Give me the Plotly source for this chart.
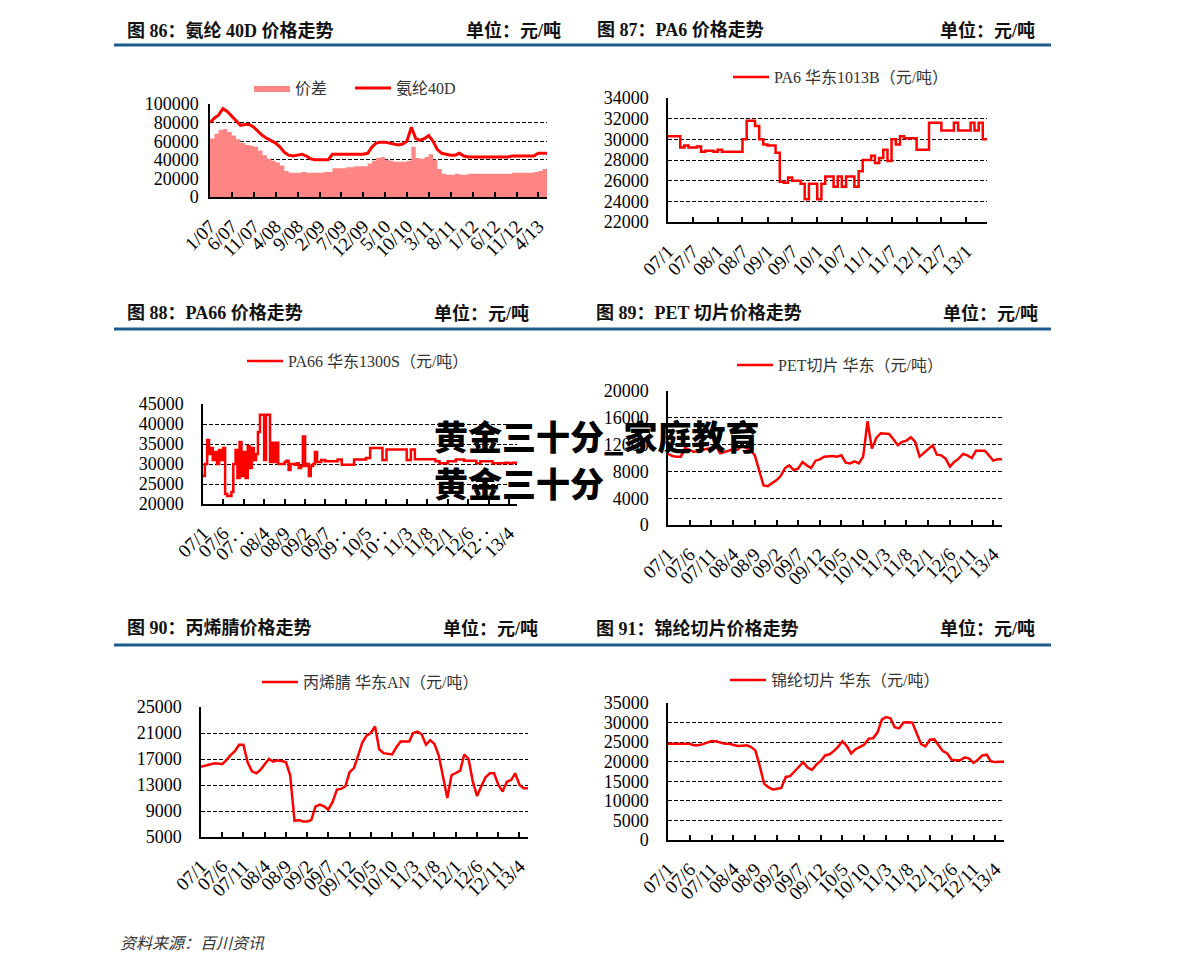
import plotly.graph_objects as go
import pandas as pd

W, H = 1191, 974          # browser window
PAGE_MARGIN = 8           # default body margin of the written page
FW, FH = W - 2 * PAGE_MARGIN, H - 2 * PAGE_MARGIN

# ---------------- data ----------------
MONTHS = pd.date_range("2007-01-01", periods=78, freq="MS").strftime("%Y-%m-%d").tolist()

SPANDEX_40D = [80000, 85000, 88000, 95000, 92000, 87000, 82000, 77000, 78000, 78000,
               75000, 71000, 66000, 63000, 61000, 58000, 54000, 48000, 45000, 44000,
               45000, 46000, 44000, 41000, 40000, 40000, 40000, 40000, 46000, 46000,
               46000, 46000, 46000, 46000, 46000, 46000, 47000, 54000, 58000, 59000,
               59000, 58000, 57000, 56000, 57000, 60000, 75000, 63000, 61000, 63000,
               66000, 60000, 51000, 47000, 46000, 45000, 45000, 47000, 44000, 43000,
               43000, 43000, 43000, 43000, 43000, 43000, 43000, 43000, 43000, 44000,
               44000, 44000, 44000, 44000, 44000, 47000, 47000, 47000]

SPREAD = [63000, 68000, 72000, 73000, 70000, 66000, 62000, 58000, 56000, 55000,
          54000, 50000, 45000, 41000, 39000, 37000, 34000, 28000, 26000, 26000,
          26000, 27000, 26000, 26000, 26000, 26000, 27000, 27000, 31000, 31000,
          31000, 32000, 32000, 33000, 33000, 33000, 36000, 39000, 42000, 43000,
          40000, 39000, 38000, 38000, 38000, 39000, 54000, 42000, 41000, 43000,
          46000, 40000, 30000, 25000, 24000, 24000, 25000, 24000, 24000, 25000,
          25000, 25000, 25000, 25000, 25000, 25000, 25000, 25000, 25000, 26000,
          26000, 26000, 26000, 26000, 27000, 28000, 30000, 30000]

PA6 = [30300, 30300, 30300, 29200, 29400, 29200, 29200, 29300, 28800, 28900,
       28900, 28800, 29000, 28800, 28800, 28800, 28800, 28800, 30000, 31800,
       31800, 31300, 30000, 29500, 29400, 29400, 28700, 25900, 25800, 26300,
       26000, 26000, 25700, 24200, 25700, 25700, 24200, 25700, 26400, 26400,
       25400, 26400, 25400, 26400, 26400, 25400, 26900, 28000, 28000, 28400,
       27700, 28200, 29000, 27900, 30000, 29500, 30300, 30100, 30100, 30100,
       29000, 29000, 29000, 31600, 31600, 31600, 30850, 30850, 30850, 31600,
       30850, 30850, 30850, 31600, 30850, 31600, 30000, 30000]

PA66_DATES = (pd.date_range("2007-01-01", "2009-05-01", freq="SMS").strftime("%Y-%m-%d").tolist()
              + pd.date_range("2009-06-01", "2013-06-01", freq="MS").strftime("%Y-%m-%d").tolist())
PA66 = [27000, 30000, 36000, 32500, 34000, 31000, 33000, 30000, 33500, 31000,
        34000, 22500, 22000, 22000, 23000, 30000, 33500, 26500, 35500, 27000,
        33000, 26500, 34500, 29000, 34000, 31000, 32500, 38000, 42300, 42300,
        31000, 42300, 42300, 30500, 35300, 30500, 35300, 30000, 30000, 30000,
        30500, 30800, 28500, 30000, 30000, 29800, 30200, 29000, 29500, 36900,
        29500, 30000, 27000, 29500, 30000, 33000, 30500,
        31000, 30700, 30700, 30700, 31100, 29800, 29800, 29800, 31100, 31100,
        31100, 31500, 34000, 34000, 34000, 31000, 33600, 33600, 33600, 33600,
        33600, 31000, 33600, 31200, 31200, 31200, 31200, 31200, 30700, 30200,
        30200, 30700, 30700, 31100, 31100, 30800, 30800, 30800, 30200, 30700,
        30700, 30700, 30200, 30200, 30200, 30300, 30200, 30300, 30300]

PET = [10600, 10300, 10200, 10200, 11500, 11200, 10900, 11100, 11200, 11400,
       11500, 11900, 10700, 10900, 11100, 11300, 11200, 11800, 11500, 11200,
       10400, 8000, 5900, 5800, 6300, 6700, 7300, 8500, 8900, 8200,
       8400, 9400, 8900, 8500, 9600, 9800, 10200, 10300, 10300, 10200,
       10400, 9300, 9200, 9500, 9200, 10200, 15500, 11400, 13000, 13700,
       13700, 13600, 12800, 11900, 12400, 12600, 13100, 12400, 10200, 10800,
       11400, 11900, 10500, 10400, 9900, 8700, 9400, 9900, 10600, 10400,
       10000, 11100, 11100, 11100, 10400, 9600, 9800, 9800]

AN = [15800, 16000, 16200, 16300, 16300, 16200, 16800, 17600, 18200, 19200,
      19200, 16500, 15100, 14800, 15300, 16200, 17000, 16600, 16800, 16700,
      16500, 14500, 7500, 7600, 7400, 7400, 7600, 9700, 10000, 9700,
      9200, 10400, 12300, 12400, 12800, 15000, 15600, 17600, 19500, 20600,
      21000, 22000, 18500, 17900, 17800, 17700, 18800, 19700, 19700, 19700,
      21000, 21200, 20800, 19200, 19900, 19300, 17500, 14500, 11000, 14500,
      14800, 15200, 17700, 17000, 13600, 11300, 12800, 14200, 14800, 14800,
      13000, 12000, 13500, 13800, 14800, 13000, 12500, 12500]

NYLON_CHIP = [24600, 24600, 24600, 24600, 24600, 24600, 24200, 24200, 24500, 24900,
              25300, 25200, 24800, 24600, 24600, 24300, 24000, 24100, 24200, 23800,
              22900, 19000, 14400, 13500, 12900, 13100, 13300, 16100, 16300, 17500,
              18800, 19900, 18500, 17900, 19300, 20200, 21600, 21900, 22700, 23800,
              25200, 24000, 22100, 23200, 23800, 24400, 25900, 26000, 27500, 30800,
              31400, 31100, 28800, 28500, 30000, 30100, 30000, 27500, 24500, 23900,
              25600, 25700, 24200, 22700, 22100, 20500, 20400, 20400, 21100, 20800,
              19700, 20500, 21600, 21800, 20100, 19900, 20000, 20000]

TICKS_5 = ["2007-01-01", "2007-06-01", "2007-11-01", "2008-04-01", "2008-09-01", "2009-02-01",
           "2009-07-01", "2009-12-01", "2010-05-01", "2010-10-01", "2011-03-01", "2011-08-01",
           "2012-01-01", "2012-06-01", "2012-11-01", "2013-04-01"]
TICKS_6 = ["2007-01-01", "2007-07-01", "2008-01-01", "2008-07-01", "2009-01-01", "2009-07-01",
           "2010-01-01", "2010-07-01", "2011-01-01", "2011-07-01", "2012-01-01", "2012-07-01",
           "2013-01-01"]
LABELS_86 = ["1/07", "6/07", "11/07", "4/08", "9/08", "2/09", "7/09", "12/09", "5/10", "10/10",
             "3/11", "8/11", "1/12", "6/12", "11/12", "4/13"]
LABELS_87 = ["07/1", "07/7", "08/1", "08/7", "09/1", "09/7", "10/1", "10/7", "11/1", "11/7",
             "12/1", "12/7", "13/1"]
LABELS_88 = ["07/1", "07/6", "07‥", "08/4", "08/9", "09/2", "09/7", "09‥", "10/5", "10‥",
             "11/3", "11/8", "12/1", "12/6", "12‥", "13/4"]
LABELS_STD = ["07/1", "07/6", "07/11", "08/4", "08/9", "09/2", "09/7", "09/12", "10/5", "10/10",
              "11/3", "11/8", "12/1", "12/6", "12/11", "13/4"]

TITLES = [("图 86：氨纶 40D 价格走势", 125, 30, 563),
          ("图 87：PA6 价格走势", 595, 30, 1037),
          ("图 88：PA66 价格走势", 125, 313, 531),
          ("图 89：PET 切片价格走势", 594, 313, 1040),
          ("图 90：丙烯腈价格走势", 125, 628, 540),
          ("图 91：锦纶切片价格走势", 594, 628, 1037)]
UNIT = "单位：元/吨"

# ---------------- style ----------------
RED = "#ff0000"
PINK = "#ff8585"
BLUE = "#1f5a8c"
SERIF = "Liberation Serif, Noto Sans CJK SC"
X_RANGE = ["2007-01-01", "2013-06-01"]


def fx(p):
    return (p - PAGE_MARGIN) / FW


def fy(p):
    return 1 - (p - PAGE_MARGIN) / FH


def px_x(a, b):
    return [fx(a), fx(b)]


def px_y(top, bottom):
    return [fy(bottom), fy(top)]


def xaxis(dom, ticks, labels, anchor):
    return dict(domain=dom, anchor=anchor, type="date", range=X_RANGE, automargin=False,
                tickmode="array", tickvals=ticks, ticktext=labels, tickangle=-45,
                ticks="inside", ticklen=5, tickwidth=1.5, tickcolor="black",
                showline=True, linecolor="black", linewidth=1.5,
                showgrid=False, zeroline=False, ticklabelstandoff=9,
                tickfont=dict(family=SERIF, size=19, color="black"))


def yaxis(dom, rng, dtick, anchor, standoff=14):
    return dict(domain=dom, anchor=anchor, range=rng, dtick=dtick, tick0=rng[0], automargin=False,
                tickformat="d",
                showgrid=True, gridcolor="black", gridwidth=1, griddash="4px,2px",
                showline=True, linecolor="black", linewidth=1.5, ticks="",
                zeroline=False, ticklabelstandoff=standoff,
                tickfont=dict(family=SERIF, size=18, color="black"))


fig = go.Figure()

fig.add_trace(go.Scatter(x=MONTHS, y=SPREAD, name="价差", mode="lines", line=dict(width=0, color=PINK, shape="hv"),
                         fill="tozeroy", fillcolor=PINK, xaxis="x", yaxis="y", legend="legend"))
fig.add_trace(go.Scatter(x=MONTHS, y=SPANDEX_40D, name="氨纶40D", mode="lines", line=dict(width=3, color=RED),
                         xaxis="x", yaxis="y", legend="legend2"))
fig.add_trace(go.Scatter(x=MONTHS, y=PA6, name="PA6 华东1013B（元/吨）", mode="lines",
                         line=dict(width=2.5, color=RED, shape="hv"), xaxis="x2", yaxis="y2", legend="legend3"))
fig.add_trace(go.Scatter(x=PA66_DATES, y=PA66, name="PA66 华东1300S（元/吨）", mode="lines",
                         line=dict(width=2.5, color=RED, shape="hv"), xaxis="x3", yaxis="y3", legend="legend4"))
fig.add_trace(go.Scatter(x=MONTHS, y=PET, name="PET切片 华东（元/吨）", mode="lines",
                         line=dict(width=2.5, color=RED), xaxis="x4", yaxis="y4", legend="legend5"))
fig.add_trace(go.Scatter(x=MONTHS, y=AN, name="丙烯腈 华东AN（元/吨）", mode="lines",
                         line=dict(width=2.5, color=RED), xaxis="x5", yaxis="y5", legend="legend6"))
fig.add_trace(go.Scatter(x=MONTHS, y=NYLON_CHIP, name="锦纶切片 华东（元/吨）", mode="lines",
                         line=dict(width=2.5, color=RED), xaxis="x6", yaxis="y6", legend="legend7"))


def legend_at(xpx, ypx):
    return dict(x=fx(xpx), y=fy(ypx), xanchor="left", yanchor="middle", orientation="h",
                bgcolor="rgba(0,0,0,0)", borderwidth=0, itemwidth=36,
                font=dict(family=SERIF, size=16, color="#333333"))


annotations = []
shapes = []
for text, xl, yc, xr in TITLES:
    annotations.append(dict(text=text, xref="paper", yref="paper", x=fx(xl), y=fy(yc),
                            xanchor="left", yanchor="middle", showarrow=False,
                            font=dict(family=SERIF, size=18, color="#111111", weight="bold")))
    annotations.append(dict(text=UNIT, xref="paper", yref="paper", x=fx(xr), y=fy(yc),
                            xanchor="right", yanchor="middle", showarrow=False,
                            font=dict(family=SERIF, size=18, color="#111111", weight="bold")))
for yl in (45, 329, 645):
    shapes.append(dict(type="line", xref="paper", yref="paper", x0=fx(114), x1=fx(1051),
                       y0=fy(yl), y1=fy(yl), line=dict(color=BLUE, width=3)))

annotations.append(dict(text="资料来源：百川资讯", xref="paper", yref="paper", x=fx(118), y=fy(943),
                        xanchor="left", yanchor="middle", showarrow=False,
                        font=dict(family=SERIF, size=16, color="#333333", style="italic")))
annotations.append(dict(text="黄金三十分_家庭教育", xref="paper", yref="paper", x=fx(432), y=fy(435),
                        xanchor="left", yanchor="middle", showarrow=False,
                        font=dict(family="Noto Sans CJK SC", size=34, color="black", weight=900)))
annotations.append(dict(text="黄金三十分", xref="paper", yref="paper", x=fx(432), y=fy(482),
                        xanchor="left", yanchor="middle", showarrow=False,
                        font=dict(family="Noto Sans CJK SC", size=34, color="black", weight=900)))

fig.update_layout(
    width=FW, height=FH, margin=dict(l=0, r=0, t=0, b=0, pad=0, autoexpand=False),
    paper_bgcolor="white", plot_bgcolor="white",
    xaxis=xaxis(px_x(210, 547), TICKS_5, LABELS_86, "y"),
    yaxis=yaxis(px_y(104, 197), [0, 100000], 20000, "x", standoff=6),
    xaxis2=xaxis(px_x(668, 987), TICKS_6, LABELS_87, "y2"),
    yaxis2=yaxis(px_y(98, 222), [22000, 34000], 2000, "x2"),
    xaxis3=xaxis(px_x(203, 517), TICKS_5, LABELS_88, "y3"),
    yaxis3=yaxis(px_y(404, 504), [20000, 45000], 5000, "x3"),
    xaxis4=xaxis(px_x(668, 1002), TICKS_5, LABELS_STD, "y4"),
    yaxis4=yaxis(px_y(391, 525), [0, 20000], 4000, "x4"),
    xaxis5=xaxis(px_x(201, 528), TICKS_5, LABELS_STD, "y5"),
    yaxis5=yaxis(px_y(707, 837), [5000, 25000], 4000, "x5"),
    xaxis6=xaxis(px_x(668, 1004), TICKS_5, LABELS_STD, "y6"),
    yaxis6=yaxis(px_y(703, 840), [0, 35000], 5000, "x6"),
    legend=legend_at(249, 88),
    legend2=legend_at(350, 88),
    legend3=legend_at(728, 77),
    legend4=legend_at(242, 361),
    legend5=legend_at(732, 365),
    legend6=legend_at(257, 682),
    legend7=legend_at(725, 680),
    showlegend=True,
    annotations=annotations,
    shapes=shapes,
)

fig.write_html("out.html")
